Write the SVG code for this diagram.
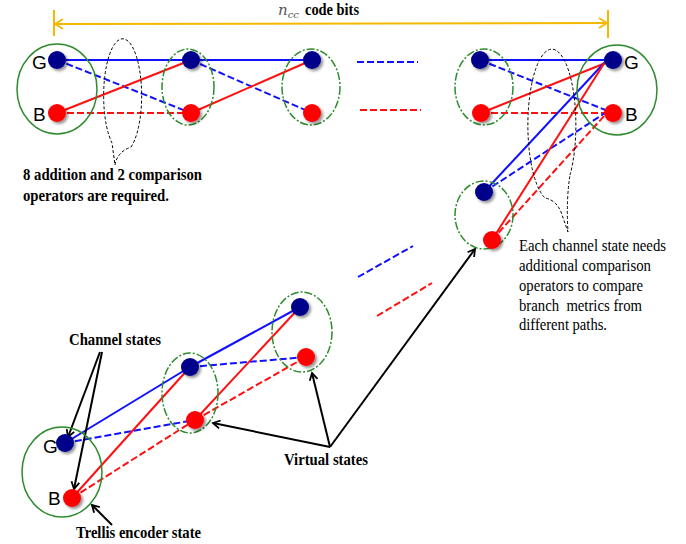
<svg xmlns="http://www.w3.org/2000/svg" width="686" height="544" viewBox="0 0 686 544">
<style>
.bs{stroke:#1010ff;stroke-width:2;fill:none}
.bd{stroke:#1010ff;stroke-width:2;fill:none;stroke-dasharray:7,3}
.rs{stroke:#ff1010;stroke-width:2;fill:none}
.rd{stroke:#ff1010;stroke-width:2;fill:none;stroke-dasharray:7,3}
.gc{fill:none;stroke:#2e8b2e;stroke-width:1.5}
.ge{fill:none;stroke:#2e8b2e;stroke-width:1.5;stroke-dasharray:8,2,2,2}
.bal{fill:none;stroke:#000;stroke-width:1;stroke-dasharray:3,2}
.ar{stroke:#000;stroke-width:2;fill:none;marker-end:url(#ah)}
.g{fill:#00008b;filter:url(#sh)}
.r{fill:#ff0000;filter:url(#sh)}
.lbl{font-family:"Liberation Sans",Arial,sans-serif;font-size:19px;fill:#000}
.bt{font-family:"Liberation Serif","Times New Roman",serif;font-weight:bold;font-size:17px;fill:#000}
.rt{font-family:"Liberation Serif","Times New Roman",serif;font-size:16px;fill:#000}
</style>
<defs>
<filter id="sh" x="-50%" y="-50%" width="200%" height="200%">
<feGaussianBlur in="SourceAlpha" stdDeviation="1.5"/>
<feOffset dx="1.5" dy="1.5" result="b"/>
<feComponentTransfer><feFuncA type="linear" slope="0.45"/></feComponentTransfer>
<feMerge><feMergeNode/><feMergeNode in="SourceGraphic"/></feMerge>
</filter>
<marker id="ah" markerWidth="10" markerHeight="10" refX="8" refY="5" orient="auto" markerUnits="userSpaceOnUse">
<path d="M1,1 L8,5 L1,9" fill="none" stroke="#000" stroke-width="1.8"/>
</marker>
<marker id="ya" markerWidth="12" markerHeight="12" refX="10" refY="6" orient="auto-start-reverse" markerUnits="userSpaceOnUse">
<path d="M2,1 L10,6 L2,11" fill="none" stroke="#f5b800" stroke-width="1.8"/>
</marker>
</defs>

<!-- yellow dimension arrow -->
<g id="dimension">
<line x1="54" y1="10" x2="54" y2="36" stroke="#f5b800" stroke-width="2"/>
<line x1="608" y1="10" x2="608" y2="38" stroke="#f5b800" stroke-width="2"/>
<line x1="55" y1="24" x2="607" y2="23" stroke="#f5b800" stroke-width="2" marker-start="url(#ya)" marker-end="url(#ya)"/>
<text x="278" y="15" font-family="'DejaVu Serif',serif" font-style="italic" font-size="15" fill="#555">n<tspan font-size="10" dy="3">cc</tspan></text>
<text x="305" y="15" class="bt" font-size="15" textLength="54" lengthAdjust="spacingAndGlyphs">code bits</text>
</g>

<!-- connectors -->
<g id="connectors">
<!-- top stage 1 -->
<line class="bs" x1="57" y1="60" x2="191" y2="60"/>
<line class="bd" x1="57" y1="60" x2="191" y2="113"/>
<line class="rs" x1="57" y1="113" x2="191" y2="60"/>
<line class="rd" x1="57" y1="113" x2="191" y2="113"/>
<!-- top stage 2 -->
<line class="bs" x1="191" y1="60" x2="312" y2="60"/>
<line class="bd" x1="191" y1="60" x2="312" y2="113"/>
<line class="rs" x1="191" y1="113" x2="312" y2="60"/>
<!-- continuation dashes -->
<line class="bd" x1="357" y1="62" x2="418" y2="62"/>
<line class="rd" x1="360" y1="110" x2="421" y2="110"/>
<!-- right stage -->
<line class="bs" x1="480" y1="60" x2="613" y2="60"/>
<line class="bd" x1="480" y1="60" x2="613" y2="113"/>
<line class="rs" x1="481" y1="113" x2="613" y2="60"/>
<line class="rd" x1="481" y1="113" x2="613" y2="113"/>
<line class="bs" x1="484" y1="192" x2="605" y2="62"/>
<line class="bd" x1="484" y1="192" x2="605" y2="113"/>
<line class="rs" x1="492" y1="240" x2="605" y2="62"/>
<line class="rd" x1="492" y1="240" x2="605" y2="115"/>
<!-- middle dashes -->
<line class="bd" x1="358" y1="277" x2="413" y2="246"/>
<line class="rd" x1="377" y1="316" x2="432" y2="283"/>
<!-- bottom stage 1 -->
<line class="bs" x1="65" y1="443" x2="190" y2="367"/>
<line class="bd" x1="65" y1="443" x2="195" y2="420"/>
<line class="rs" x1="72" y1="498" x2="190" y2="367"/>
<line class="rd" x1="72" y1="498" x2="195" y2="420"/>
<!-- bottom stage 2 -->
<line class="bs" x1="190" y1="367" x2="300" y2="307"/>
<line class="bd" x1="190" y1="367" x2="306" y2="357"/>
<line class="rs" x1="195" y1="420" x2="300" y2="307"/>
<line class="rd" x1="195" y1="420" x2="306" y2="357"/>
<!-- annotation arrows -->
<line class="ar" x1="100" y1="352" x2="68" y2="437"/>
<line class="ar" x1="102" y1="352" x2="74" y2="489"/>
<line class="ar" x1="112" y1="525" x2="92" y2="505"/>
<line class="ar" x1="330" y1="447" x2="213" y2="423"/>
<line class="ar" x1="330" y1="447" x2="312" y2="373"/>
<line class="ar" x1="330" y1="447" x2="475" y2="249"/>
</g>

<!-- groups / ellipses -->
<g id="enc-top-left"><ellipse class="gc" cx="57" cy="89" rx="40" ry="45"/></g>
<g id="virt-top-2"><ellipse class="ge" cx="188" cy="87" rx="26" ry="38"/></g>
<g id="virt-top-3"><ellipse class="ge" cx="311" cy="87" rx="29" ry="38"/></g>
<g id="virt-top-4"><ellipse class="ge" cx="484" cy="87" rx="29" ry="38"/></g>
<g id="enc-top-right"><ellipse class="gc" cx="617" cy="90" rx="40" ry="45"/></g>
<g id="virt-lower-right"><ellipse class="ge" cx="484" cy="215" rx="29" ry="34"/></g>
<g id="enc-bottom-left"><ellipse class="gc" cx="62" cy="472" rx="40" ry="45"/></g>
<g id="virt-bottom-2"><ellipse class="ge" cx="190" cy="393" rx="28" ry="40"/></g>
<g id="virt-bottom-3"><ellipse class="ge" cx="302" cy="332" rx="30" ry="40"/></g>

<!-- callout balloons -->
<g id="balloon-left"><path class="bal" d="M131,147 A19 57 0 1 0 112,143 L115,165 Q117,152 131,147"/></g>
<g id="balloon-right"><path class="bal" d="M570,175 A24 76 0 1 0 545,198 Q556,200 561,212 L568,232 Q566,200 570,175"/></g>

<!-- nodes -->
<g id="node-G1"><circle class="g" cx="57" cy="60" r="9"/><text class="lbl" x="32" y="69">G</text></g>
<g id="node-B1"><circle class="r" cx="57" cy="113" r="9"/><text class="lbl" x="33" y="121">B</text></g>
<g id="node-G2"><circle class="g" cx="191" cy="60" r="9"/></g>
<g id="node-B2"><circle class="r" cx="191" cy="113" r="9"/></g>
<g id="node-G3"><circle class="g" cx="312" cy="60" r="9"/></g>
<g id="node-B3"><circle class="r" cx="312" cy="113" r="9"/></g>
<g id="node-G4"><circle class="g" cx="480" cy="60" r="9"/></g>
<g id="node-B4"><circle class="r" cx="481" cy="113" r="9"/></g>
<g id="node-G5"><circle class="g" cx="613" cy="60" r="9"/><text class="lbl" x="624" y="69">G</text></g>
<g id="node-B5"><circle class="r" cx="613" cy="113" r="9"/><text class="lbl" x="625" y="121">B</text></g>
<g id="node-Gv"><circle class="g" cx="484" cy="192" r="9"/></g>
<g id="node-Bv"><circle class="r" cx="492" cy="240" r="9"/></g>
<g id="node-Gb1"><circle class="g" cx="65" cy="443" r="9"/><text class="lbl" x="43" y="453">G</text></g>
<g id="node-Bb1"><circle class="r" cx="72" cy="498" r="9"/><text class="lbl" x="48" y="505">B</text></g>
<g id="node-Gb2"><circle class="g" cx="190" cy="367" r="9"/></g>
<g id="node-Bb2"><circle class="r" cx="195" cy="420" r="9"/></g>
<g id="node-Gb3"><circle class="g" cx="300" cy="307" r="9"/></g>
<g id="node-Bb3"><circle class="r" cx="306" cy="357" r="9"/></g>

<!-- text annotations -->
<g id="note-left">
<text class="bt" x="23" y="180" font-size="16" textLength="179" lengthAdjust="spacingAndGlyphs">8 addition and 2 comparison</text>
<text class="bt" x="23" y="201" font-size="16" textLength="146" lengthAdjust="spacingAndGlyphs">operators are required.</text>
</g>
<g id="note-right">
<text class="rt" x="519" y="251" textLength="147" lengthAdjust="spacingAndGlyphs">Each channel state needs</text>
<text class="rt" x="519" y="271" textLength="132" lengthAdjust="spacingAndGlyphs">additional comparison</text>
<text class="rt" x="519" y="291" textLength="124" lengthAdjust="spacingAndGlyphs">operators to compare</text>
<text class="rt" x="519" y="311" textLength="123" lengthAdjust="spacingAndGlyphs" xml:space="preserve">branch  metrics from</text>
<text class="rt" x="519" y="330" textLength="88" lengthAdjust="spacingAndGlyphs">different paths.</text>
</g>
<g id="label-channel"><text class="bt" x="69" y="345" textLength="92" lengthAdjust="spacingAndGlyphs">Channel states</text></g>
<g id="label-virtual"><text class="bt" x="284" y="465" textLength="84" lengthAdjust="spacingAndGlyphs">Virtual states</text></g>
<g id="label-trellis"><text class="bt" x="76" y="538" textLength="125" lengthAdjust="spacingAndGlyphs">Trellis encoder state</text></g>
</svg>
